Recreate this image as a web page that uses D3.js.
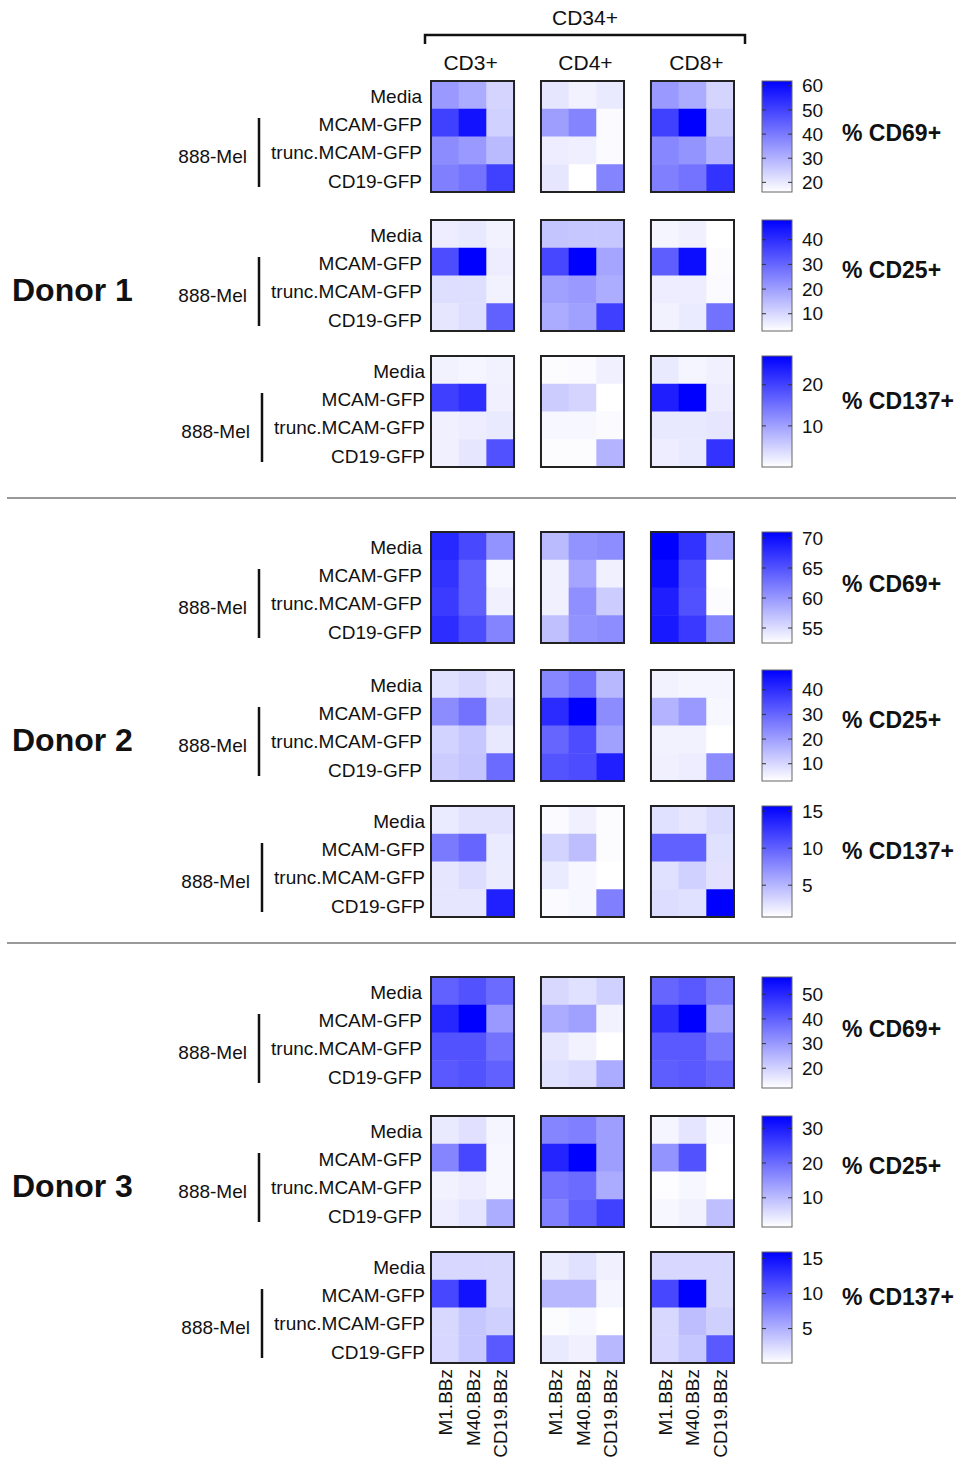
<!DOCTYPE html>
<html>
<head>
  <title>CAR activation heatmaps</title>
  <style>
    body { margin: 0; background: #fff; }
    text { font-family: "Liberation Sans", Arial, sans-serif; fill: #111; }
    .donor { font-size: 32px; font-weight: bold; }
    .marker { font-size: 23px; font-weight: bold; }
    .rowlab, .mel, .carlab, .ticklab { font-size: 19px; }
    .head { font-size: 21px; }
    .cellbox { fill: none; stroke: #222; stroke-width: 2px; }
  </style>
</head>
<body>
  <svg id="chart" width="956" height="1459"></svg>

  <script src="https://d3js.org/d3.v7.min.js"></script>
  <script>
    // categories
    const donors = ["Donor 1", "Donor 2", "Donor 3"];
    const markers = ["% CD69+", "% CD25+", "% CD137+"];
    const cellTypes = ["CD3+", "CD4+", "CD8+"];
    const conditions = ["Media", "MCAM-GFP", "trunc.MCAM-GFP", "CD19-GFP"];
    const cars = ["M1.BBz", "M40.BBz", "CD19.BBz"];

    // values: [cell type][condition][CAR]
    const donor1CD69 = [
      [[34.4, 31.2, 23.8], [50.5, 58.8, 24.3], [36.7, 34.4, 28.4], [39.0, 41.3, 50.5]],
      [[20.6, 18.3, 19.7], [33.5, 38.1, 16.9], [19.2, 18.8, 16.9], [20.6, 16.0, 38.1]],
      [[34.4, 31.2, 23.8], [50.5, 62.0, 26.1], [37.6, 35.3, 29.8], [39.0, 41.3, 52.8]]
    ];
    const donor1CD25 = [
      [[6.2, 7.1, 5.3], [34.5, 48.0, 6.2], [8.9, 8.9, 5.3], [7.5, 8.9, 30.9]],
      [[13.4, 12.9, 12.9], [35.4, 48.0, 18.8], [19.7, 21.0, 17.4], [17.9, 19.7, 36.8]],
      [[4.8, 5.7, 3.0], [31.4, 45.8, 3.5], [6.2, 6.2, 3.9], [5.3, 6.6, 27.8]]
    ];
    const donor1CD137 = [
      [[1.4, 1.1, 1.4], [20.3, 22.1, 1.6], [1.6, 1.9, 2.2], [1.6, 2.7, 18.4]],
      [[0.3, 0.5, 1.6], [5.4, 4.6, 0.0], [0.8, 0.8, 0.5], [0.3, 0.3, 8.1]],
      [[2.2, 1.1, 1.6], [23.8, 27.0, 1.9], [2.4, 2.4, 2.7], [1.9, 2.2, 21.6]]
    ];
    const donor2CD69 = [
      [[68.2, 65.8, 60.3], [67.3, 64.0, 53.1], [66.7, 64.0, 53.6], [67.7, 65.5, 61.4]],
      [[57.5, 60.3, 60.8], [53.6, 59.0, 53.6], [53.6, 60.6, 56.2], [57.1, 60.3, 60.8]],
      [[71.0, 67.3, 59.5], [70.1, 65.5, 52.5], [68.8, 65.1, 52.7], [69.2, 66.9, 61.4]]
    ];
    const donor2CD25 = [
      [[8.4, 9.8, 7.5], [23.3, 27.8, 9.8], [10.7, 12.9, 7.1], [12.0, 13.4, 29.1]],
      [[24.2, 27.8, 15.6], [40.4, 48.0, 23.3], [30.0, 34.5, 19.7], [33.2, 34.5, 42.6]],
      [[5.3, 4.8, 4.8], [16.5, 21.0, 4.4], [5.3, 5.3, 3.0], [5.7, 6.2, 23.3]]
    ];
    const donor2CD137 = [
      [[1.9, 2.4, 2.4], [8.5, 9.7, 1.9], [2.2, 2.7, 1.8], [2.2, 2.2, 13.8]],
      [[1.0, 1.6, 0.9], [3.3, 4.5, 0.9], [1.9, 1.2, 0.7], [1.0, 1.2, 8.2]],
      [[2.5, 2.2, 2.8], [10.0, 10.0, 2.5], [2.5, 3.4, 2.4], [2.7, 2.5, 15.7]]
    ];
    const donor3CD69 = [
      [[39.9, 42.6, 38.1], [50.3, 57.0, 30.0], [42.6, 42.6, 36.8], [41.3, 42.6, 39.9]],
      [[18.8, 17.4, 20.1], [26.9, 28.7, 14.3], [16.5, 14.3, 12.0], [17.4, 18.3, 26.9]],
      [[39.0, 41.3, 35.4], [48.9, 57.0, 29.1], [41.3, 41.3, 35.4], [40.4, 41.3, 39.0]]
    ];
    const donor3CD25 = [
      [[4.2, 5.4, 2.9], [16.9, 24.6, 2.6], [3.2, 3.8, 2.6], [3.8, 4.8, 11.8]],
      [[16.9, 17.6, 13.7], [29.0, 33.5, 13.7], [19.1, 20.1, 12.1], [17.6, 21.4, 25.5]],
      [[2.9, 4.8, 2.2], [15.0, 23.3, 1.6], [1.9, 2.6, 1.6], [2.6, 3.2, 9.6]]
    ];
    const donor3CD137 = [
      [[2.6, 2.6, 2.5], [11.5, 14.8, 2.5], [2.5, 3.6, 3.0], [2.6, 3.6, 10.4]],
      [[1.4, 2.0, 1.0], [4.5, 4.5, 0.7], [0.3, 0.6, 0.1], [1.4, 1.0, 4.5]],
      [[2.6, 2.6, 2.6], [11.5, 15.9, 2.5], [2.5, 4.1, 3.0], [2.6, 3.6, 10.4]]
    ];
    const donorData = [
      [donor1CD69, donor1CD25, donor1CD137],
      [donor2CD69, donor2CD25, donor2CD137],
      [donor3CD69, donor3CD25, donor3CD137]
    ];

    // colour scale ranges and colour bar tick labels
    const scaleDomains = [
      [[16, 62], [3, 48], [0, 27]],
      [[52.5, 71], [3, 48], [0.7, 15.7]],
      [[12, 57], [1.6, 33.5], [0.1, 15.9]]
    ];
    const scaleTicks = [
      [[20, 30, 40, 50, 60], [10, 20, 30, 40], [10, 20]],
      [[55, 60, 65, 70], [10, 20, 30, 40], [5, 10, 15]],
      [[20, 30, 40, 50], [10, 20, 30], [5, 10, 15]]
    ];

    // layout
    const panelTops = [[81, 220, 356], [532, 670, 806], [977, 1116, 1252]];
    const panelH = 111;
    const labelShift = [0, 0, 3];
    const markerDy = [-4, -6, -11];
    const headShift = [-2, 3, 4];

    const svg = d3.select("#chart");

    const xPanel = d3.scaleBand().domain(cellTypes).range([431, 734]).paddingInner(0.245);
    const xCell = d3.scaleBand().domain(cars).range([0, xPanel.bandwidth()]);
    const yCell = d3.scaleBand().domain(conditions).range([0, panelH]);
    const yLabel = d3.scalePoint().domain(conditions).range([15, 100]);

    // top bracket and headers
    svg.append("path")
      .attr("d", "M425,44V35H745V44")
      .attr("fill", "none").attr("stroke", "#111").attr("stroke-width", 2.5);
    svg.append("text").attr("class", "head")
      .attr("x", 585).attr("y", 25).attr("text-anchor", "middle").text("CD34+");
    svg.selectAll(".ct").data(cellTypes).enter().append("text")
      .attr("class", "head")
      .attr("x", (d, i) => xPanel(d) + xPanel.bandwidth() / 2 + headShift[i])
      .attr("y", 70).attr("text-anchor", "middle").text(d => d);

    // separators
    [498, 943].forEach(y => {
      svg.append("line").attr("x1", 7).attr("x2", 956).attr("y1", y).attr("y2", y)
        .attr("stroke", "#777").attr("stroke-width", 1.5);
    });

    const defs = svg.append("defs");
    const grad = defs.append("linearGradient").attr("id", "cbar")
      .attr("x1", 0).attr("y1", 1).attr("x2", 0).attr("y2", 0);
    grad.append("stop").attr("offset", 0).attr("stop-color", "#ffffff");
    grad.append("stop").attr("offset", 1).attr("stop-color", "#0000ff");

    donors.forEach((donor, di) => {
      svg.append("text").attr("class", "donor")
        .attr("x", 12).attr("y", panelTops[di][1] + 70).attr("dy", "0.35em")
        .text(donor);

      markers.forEach((marker, mi) => {
        const top = panelTops[di][mi];
        const vals = donorData[di][mi];
        const color = d3.scaleLinear().domain(scaleDomains[di][mi]).range(["#ffffff", "#0000ff"]).clamp(true);
        const g = svg.append("g").attr("transform", `translate(0,${top})`);
        const sh = labelShift[mi];

        // row labels
        g.selectAll(".rowlab").data(conditions).enter().append("text")
          .attr("class", "rowlab")
          .attr("x", 422 + sh)
          .attr("y", d => yLabel(d))
          .attr("dy", "0.35em").attr("text-anchor", "end").text(d => d);
        g.append("line")
          .attr("x1", 259 + sh).attr("x2", 259 + sh).attr("y1", 37).attr("y2", 106)
          .attr("stroke", "#111").attr("stroke-width", 2.5);
        g.append("text").attr("class", "mel")
          .attr("x", 247 + sh).attr("y", 75).attr("dy", "0.35em")
          .attr("text-anchor", "end").text("888-Mel");

        // heatmaps
        cellTypes.forEach((ct, ci) => {
          const hg = g.append("g").attr("transform", `translate(${xPanel(ct)},0)`);
          const cells = [];
          conditions.forEach((cond, ri) => cars.forEach((car, ki) => {
            cells.push({ cond, car, v: vals[ci][ri][ki] });
          }));
          hg.selectAll("rect.cell").data(cells).enter().append("rect")
            .attr("class", "cell")
            .attr("x", d => xCell(d.car)).attr("y", d => yCell(d.cond))
            .attr("width", xCell.bandwidth() + 0.5).attr("height", yCell.bandwidth() + 0.5)
            .attr("fill", d => color(d.v));
          hg.append("rect").attr("class", "cellbox")
            .attr("width", xPanel.bandwidth()).attr("height", panelH);
        });

        // colour bar
        const cbY = d3.scaleLinear().domain(scaleDomains[di][mi]).range([panelH, 0]);
        const cb = g.append("g").attr("transform", "translate(762,0)");
        cb.append("rect").attr("width", 30).attr("height", panelH)
          .attr("fill", "url(#cbar)").attr("stroke", "#666").attr("stroke-width", 1);
        const ticks = scaleTicks[di][mi];
        cb.selectAll(".tl").data(ticks).enter().append("line")
          .attr("x1", 0).attr("x2", 4).attr("y1", d => cbY(d)).attr("y2", d => cbY(d))
          .attr("stroke", "#333");
        cb.selectAll(".tr").data(ticks).enter().append("line")
          .attr("x1", 26).attr("x2", 30).attr("y1", d => cbY(d)).attr("y2", d => cbY(d))
          .attr("stroke", "#333");
        cb.selectAll(".ticklab").data(ticks).enter().append("text")
          .attr("class", "ticklab")
          .attr("x", 40).attr("y", d => cbY(d)).attr("dy", "0.35em").text(d => d);

        g.append("text").attr("class", "marker")
          .attr("x", 842).attr("y", panelH / 2 + markerDy[mi]).attr("dy", "0.35em")
          .text(marker);
      });
    });

    // CAR labels along the bottom
    const lastTop = panelTops[2][2] + panelH;
    cellTypes.forEach(ct => {
      svg.selectAll(null).data(cars).enter().append("text")
        .attr("class", "carlab")
        .attr("transform", d => `translate(${xPanel(ct) + xCell(d) + xCell.bandwidth() / 2 + 7},${lastTop + 6}) rotate(-90)`)
        .attr("text-anchor", "end").text(d => d);
    });
  </script>
</body>
</html>
